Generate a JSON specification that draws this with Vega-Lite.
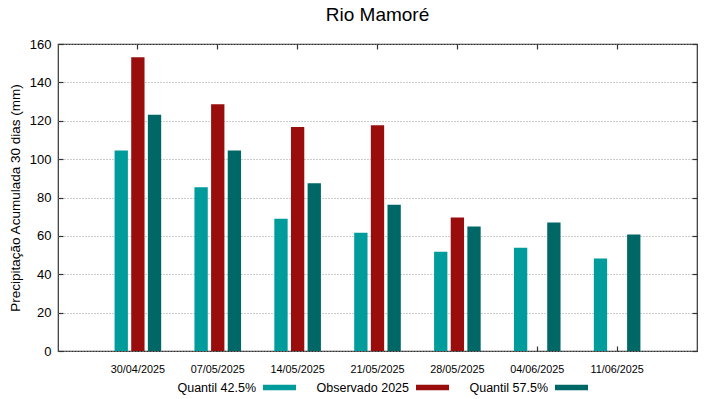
{
  "$schema": "https://vega.github.io/schema/vega-lite/v6.json",
  "width": 639,
  "height": 307,
  "autosize": {"type": "none"},
  "padding": {"left": 58, "top": 44, "right": 22, "bottom": 48},
  "background": "white",
  "title": {"text": "Rio Mamoré", "fontSize": 19, "font": "Liberation Sans", "fontWeight": "normal", "color": "#000000", "frame": "group", "offset": 13},
  "data": {"values": [
    {"date": "30/04/2025", "series": "Quantil 42.5%", "value": 104.5},
    {"date": "30/04/2025", "series": "Observado 2025", "value": 153.1},
    {"date": "30/04/2025", "series": "Quantil 57.5%", "value": 123.1},
    {"date": "07/05/2025", "series": "Quantil 42.5%", "value": 85.4},
    {"date": "07/05/2025", "series": "Observado 2025", "value": 128.6},
    {"date": "07/05/2025", "series": "Quantil 57.5%", "value": 104.5},
    {"date": "14/05/2025", "series": "Quantil 42.5%", "value": 68.9},
    {"date": "14/05/2025", "series": "Observado 2025", "value": 116.8},
    {"date": "14/05/2025", "series": "Quantil 57.5%", "value": 87.4},
    {"date": "21/05/2025", "series": "Quantil 42.5%", "value": 61.6},
    {"date": "21/05/2025", "series": "Observado 2025", "value": 117.7},
    {"date": "21/05/2025", "series": "Quantil 57.5%", "value": 76.2},
    {"date": "28/05/2025", "series": "Quantil 42.5%", "value": 51.7},
    {"date": "28/05/2025", "series": "Observado 2025", "value": 69.6},
    {"date": "28/05/2025", "series": "Quantil 57.5%", "value": 64.9},
    {"date": "04/06/2025", "series": "Quantil 42.5%", "value": 53.8},
    {"date": "04/06/2025", "series": "Quantil 57.5%", "value": 67.0},
    {"date": "11/06/2025", "series": "Quantil 42.5%", "value": 48.2},
    {"date": "11/06/2025", "series": "Quantil 57.5%", "value": 60.7}
  ]},
  "layer": [
    {
      "mark": {"type": "bar"},
      "encoding": {
        "x": {"field": "date", "type": "nominal", "sort": null,
          "scale": {"paddingInner": 0, "paddingOuter": 0.5},
          "axis": {"orient": "bottom", "title": null, "labelAngle": 0, "labelFontSize": 10.8, "labelDx": 6, "labelPadding": 17, "tickSize": -5, "domain": false, "grid": false}},
        "xOffset": {"field": "series", "type": "nominal",
          "sort": ["Quantil 42.5%", "Observado 2025", "Quantil 57.5%"],
          "scale": {"domain": ["Quantil 42.5%", "Observado 2025", "Quantil 57.5%"], "paddingInner": 0.2, "paddingOuter": 1.05}},
        "y": {"field": "value", "type": "quantitative",
          "scale": {"domain": [0, 160], "nice": false},
          "axis": {"orient": "left", "title": "Precipitação Acumulada 30 dias (mm)", "values": [0, 20, 40, 60, 80, 100, 120, 140, 160], "labelFontSize": 13, "labelPadding": 12, "tickSize": -5, "domain": false, "grid": true, "gridDash": [1, 2], "gridColor": "#9a9a9a", "titlePadding": 7, "titleFontSize": 13.5}},
        "color": {"field": "series", "type": "nominal",
          "scale": {"domain": ["Quantil 42.5%", "Observado 2025", "Quantil 57.5%"], "range": ["#009b9b", "#990d0d", "#006767"]},
          "legend": {"orient": "none", "legendX": 205, "legendY": 327, "direction": "horizontal", "title": null,
            "labelAlign": "right", "labelOffset": -40, "labelFontSize": 12.5,
            "symbolType": "M-1,-0.16L1,-0.16L1,0.16L-1,0.16Z", "symbolSize": 1089, "symbolStrokeWidth": 0, "symbolOpacity": 1,
            "columnPadding": 20}}
      }
    },
    {
      "mark": {"type": "bar", "opacity": 0},
      "encoding": {
        "x": {"field": "date", "type": "nominal", "sort": null,
          "axis": {"orient": "top", "title": null, "labels": false, "tickSize": -5, "domain": false, "grid": false}},
        "xOffset": {"field": "series", "type": "nominal", "sort": ["Quantil 42.5%", "Observado 2025", "Quantil 57.5%"]},
        "y": {"field": "value", "type": "quantitative",
          "axis": {"orient": "right", "title": null, "labels": false, "values": [0, 20, 40, 60, 80, 100, 120, 140, 160], "tickSize": -5, "domain": false, "grid": false}}
      }
    }
  ],
  "config": {
    "font": "Liberation Sans",
    "view": {"stroke": "#333333", "strokeWidth": 1.2},
    "axis": {"labelFont": "Liberation Sans", "titleFont": "Liberation Sans", "labelColor": "#000000", "titleColor": "#000000", "titleFontWeight": "normal", "tickColor": "#333333", "tickWidth": 1.2},
    "legend": {"labelFont": "Liberation Sans", "labelColor": "#000000"}
  }
}
